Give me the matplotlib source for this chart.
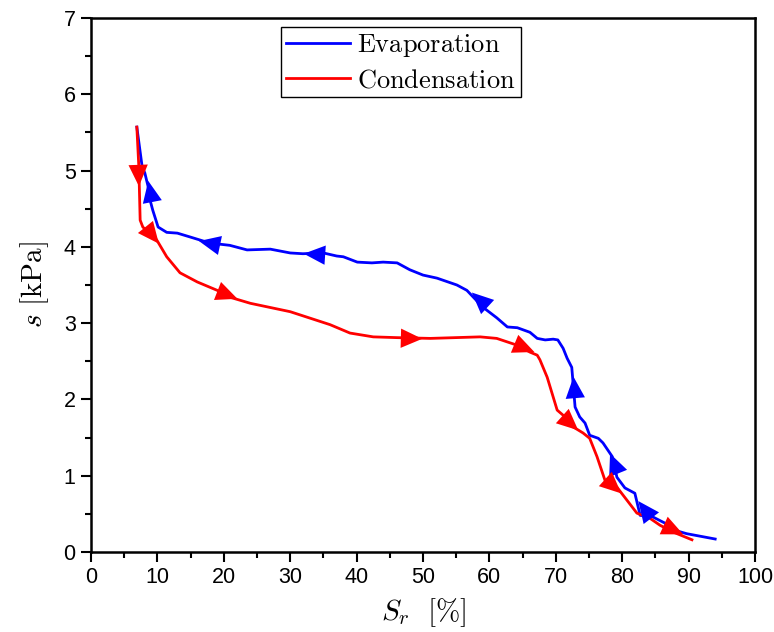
import numpy as np
import matplotlib.pyplot as plt
from matplotlib.ticker import MultipleLocator
from matplotlib.markers import MarkerStyle
from matplotlib.path import Path
from matplotlib.transforms import Affine2D

plt.rcParams['mathtext.fontset'] = 'cm'
plt.rcParams['font.family'] = ['Liberation Sans', 'DejaVu Sans']

# evaporation (drying): from wet to dry
sr_evap = [94.0, 89.7, 87.7, 86.4, 84.6, 82.7, 81.9, 80.4, 79.2, 78.5, 77.1, 76.4, 75.1,
           74.4, 73.6, 72.9, 72.6, 72.4, 71.7, 71.1, 70.3, 69.6, 68.4, 67.2, 66.1, 64.2,
           62.7, 61.1, 59.0, 56.6, 55.1, 52.1, 50.0, 48.0, 46.1, 44.0, 42.3, 40.1, 38.0,
           37.0, 35.0, 31.9, 30.0, 27.0, 23.5, 20.9, 17.9, 14.9, 13.0, 11.4, 10.1, 9.3,
           8.9, 8.6, 8.1, 7.7, 6.9]
s_evap = [0.17, 0.24, 0.29, 0.38, 0.46, 0.48, 0.77, 0.84, 0.98, 1.25, 1.43, 1.49, 1.53,
          1.69, 1.77, 1.90, 2.21, 2.42, 2.54, 2.67, 2.78, 2.79, 2.78, 2.80, 2.88, 2.94,
          2.95, 3.07, 3.21, 3.43, 3.50, 3.59, 3.63, 3.70, 3.79, 3.80, 3.79, 3.80, 3.87,
          3.88, 3.92, 3.91, 3.92, 3.97, 3.96, 4.02, 4.05, 4.13, 4.18, 4.19, 4.26, 4.48,
          4.61, 4.79, 4.97, 5.05, 5.57]

# condensation (wetting): from dry to wet
sr_cond = [6.9, 7.2, 7.4, 7.8, 9.9, 11.4, 13.4, 16.0, 19.0, 20.9, 24.0, 30.0, 36.0,
           39.0, 42.5, 46.1, 51.1, 58.6, 61.1, 64.2, 66.1, 67.2, 67.6, 68.7, 70.2, 71.4,
           72.6, 74.1, 75.1, 76.2, 77.4, 79.2, 80.7, 82.2, 84.2, 85.7, 87.7, 90.5]
s_cond = [5.57, 5.05, 4.35, 4.26, 4.09, 3.87, 3.66, 3.54, 3.43, 3.34, 3.26, 3.15, 2.98,
          2.87, 2.82, 2.81, 2.80, 2.82, 2.80, 2.71, 2.62, 2.58, 2.52, 2.29, 1.86, 1.77,
          1.64, 1.56, 1.49, 1.25, 0.94, 0.85, 0.68, 0.51, 0.44, 0.35, 0.26, 0.16]

# arrowhead positions (Sr, s) along each path
arr_evap = [(83.5, 0.55), (78.8, 1.15), (72.8, 2.15), (58.6, 3.30), (33.7, 3.91),
            (17.9, 4.05), (8.9, 4.72)]
arr_cond = [(7.0, 4.95), (9.0, 4.17), (20.3, 3.38), (48.0, 2.81), (65.0, 2.69),
            (72.0, 1.70), (78.5, 0.88), (87.5, 0.30)]

fig = plt.figure(figsize=(7.74, 6.32), dpi=100)
ax = fig.add_axes([0.1176, 0.1266, 0.8579, 0.8449])

ax.plot(sr_evap, s_evap, color='#0000ff', lw=2.0, label=r'$\mathrm{Evaporation}$')
ax.plot(sr_cond, s_cond, color='#ff0000', lw=2.0, label=r'$\mathrm{Condensation}$')

ax.set_xlim(0, 100)
ax.set_ylim(0, 7)

# arrowhead pointing along +x
head = Path([(0.55, 0.0), (-0.45, 0.45), (-0.45, -0.45), (0.55, 0.0)],
            [Path.MOVETO, Path.LINETO, Path.LINETO, Path.CLOSEPOLY])


def draw_arrows(xs, ys, pts, color):
    xy = ax.transData.transform(np.column_stack([xs, ys]))
    for px, py in pts:
        p = ax.transData.transform((px, py))
        d = np.hypot(xy[:, 0] - p[0], xy[:, 1] - p[1])
        i = int(np.argmin(d))
        a = xy[max(i - 1, 0)]
        b = xy[min(i + 1, len(xy) - 1)]
        ang = np.degrees(np.arctan2(b[1] - a[1], b[0] - a[0]))
        m = MarkerStyle(head, transform=Affine2D().rotate_deg(ang))
        ax.plot(px, py, marker=m, markersize=17, color=color,
                markeredgewidth=0, linestyle='none', zorder=3)


draw_arrows(sr_evap, s_evap, arr_evap, '#0000ff')
draw_arrows(sr_cond, s_cond, arr_cond, '#ff0000')

ax.xaxis.set_major_locator(MultipleLocator(10))
ax.xaxis.set_minor_locator(MultipleLocator(5))
ax.yaxis.set_major_locator(MultipleLocator(1))
ax.yaxis.set_minor_locator(MultipleLocator(0.5))
ax.tick_params(which='major', direction='out', length=7, width=1.5, labelsize=15.5, pad=4)
ax.tick_params(which='minor', direction='out', length=4, width=1.5)
for sp in ax.spines.values():
    sp.set_linewidth(1.8)

ax.set_xlabel(r'$S_r\ \ [\%]$', fontsize=21, labelpad=6)
ax.set_ylabel(r'$s\ [\mathrm{kPa}]$', fontsize=21, labelpad=9)

ax.legend(loc='upper left', bbox_to_anchor=(0.286, 0.983), fontsize=19,
          fancybox=False, edgecolor='black', framealpha=1, handlelength=2.4,
          borderpad=0.2, labelspacing=0.33, handletextpad=0.3, borderaxespad=0)

fig.savefig('out.png', dpi=100)
